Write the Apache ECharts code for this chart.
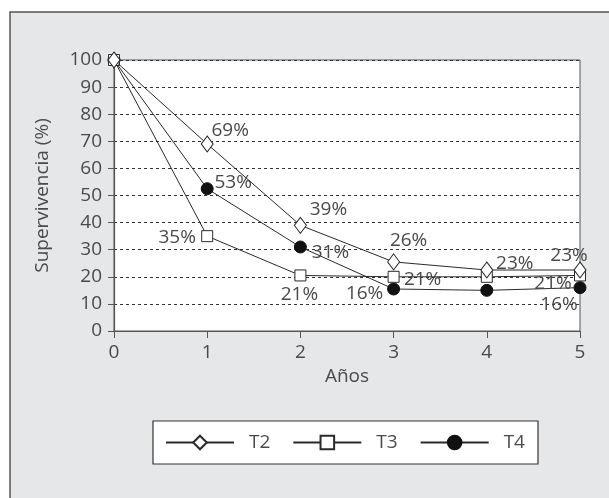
<!DOCTYPE html>
<html>
<head>
<meta charset="utf-8">
<script src="https://cdn.jsdelivr.net/npm/echarts@6/dist/echarts.min.js"></script>
<style>
html,body{margin:0;padding:0;background:#fff;}
#chart{width:609px;height:498px;}
</style>
</head>
<body>
<div id="chart"></div>
<script>
// ---- data ----
const years = [0, 1, 2, 3, 4, 5];
const seriesNames = ['T2', 'T3', 'T4'];
const t2Values = [100, 69, 39, 25.5, 22.5, 22.5];
const t3Values = [100, 35, 20.5, 20, 20, 20.5];
const t4Values = [100, 52.5, 31, 15.5, 15, 16];
const t2Labels = [null, '69%', '39%', '26%', '23%', '23%'];
const t3Labels = [null, '35%', '21%', '21%', null, '21%'];
const t4Labels = [null, '53%', '31%', '16%', null, '16%'];
const yTicks = [0, 10, 20, 30, 40, 50, 60, 70, 80, 90, 100];
const xAxisTitle = 'Años';
const yAxisTitle = 'Supervivencia (%)';

// ---- layout (label offsets in px from the marker centre) ----
const t2Offsets = [null, [23, -13], [28, -16], [15, -21], [28, -6], [-11, -14]];
const t3Offsets = [null, [-30, 1], [-1, 19], [29, 3], null, [-27, 8]];
const t4Offsets = [null, [26, -6], [30, 6], [-29, 5], null, [-21, 17]];

const FONT = '"Open Sans", "Liberation Sans", sans-serif';
const FS = 19;
const FW = 400;
const TXT = '#4a4a4a';
const LINE = '#2a2a2a';

function buildData(values, labels, offsets) {
  return years.map((x, i) => {
    const item = { value: [x, values[i]] };
    if (labels[i]) {
      item.label = {
        show: true,
        position: 'inside',
        offset: offsets[i],
        formatter: labels[i],
        color: TXT,
        fontSize: FS,
        fontFamily: FONT,
        fontWeight: FW
      };
    } else {
      item.label = { show: false };
    }
    return item;
  });
}

const chart = echarts.init(document.getElementById('chart'), null, { renderer: 'canvas' });
chart.setOption({
  backgroundColor: '#fff',
  animation: false,
  graphic: [{
    type: 'rect',
    z: -10,
    silent: true,
    shape: { x: 10, y: 12, width: 640, height: 520 },
    style: { fill: '#e6e7e8', stroke: '#555', lineWidth: 1.5 }
  }],
  grid: {
    left: 114, top: 60, right: 29, bottom: 167,
    show: true, backgroundColor: '#fff', borderColor: '#555', borderWidth: 1
  },
  legend: {
    data: seriesNames,
    left: 153, top: 421,
    orient: 'horizontal',
    padding: [12, 13, 12, 12],
    itemWidth: 68, itemHeight: 17, itemGap: 22,
    backgroundColor: '#fff',
    borderColor: '#333', borderWidth: 1.2, borderRadius: 0,
    textStyle: { color: TXT, fontSize: FS, fontFamily: FONT, fontWeight: FW, padding: [0, 0, 0, 10] }
  },
  xAxis: {
    type: 'value',
    min: 0, max: 5, interval: 1,
    name: xAxisTitle,
    nameLocation: 'middle',
    nameGap: 35,
    nameTextStyle: { color: TXT, fontSize: FS, fontFamily: FONT, fontWeight: FW },
    axisLine: { show: true, onZero: false, lineStyle: { color: '#555', width: 1.2 } },
    axisTick: { show: true, inside: false, length: 7, lineStyle: { color: '#555' } },
    axisLabel: { color: TXT, fontSize: FS, fontFamily: FONT, fontWeight: FW, margin: 12 },
    splitLine: { show: false }
  },
  yAxis: {
    type: 'value',
    min: 0, max: 100, interval: 10,
    name: yAxisTitle,
    nameLocation: 'middle',
    nameGap: 62,
    nameTextStyle: { color: TXT, fontSize: FS, fontFamily: FONT, fontWeight: FW },
    axisLine: { show: true, onZero: false, lineStyle: { color: '#555', width: 1.2 } },
    axisTick: { show: true, inside: false, length: 6, lineStyle: { color: '#555' } },
    axisLabel: {
      color: TXT, fontSize: FS, fontFamily: FONT, fontWeight: FW, margin: 12,
      formatter: v => (yTicks.indexOf(v) >= 0 ? String(v) : '')
    },
    splitLine: { show: true, lineStyle: { color: '#333', type: [3, 3], width: 1 } }
  },
  series: [
    {
      name: 'T2', type: 'line', z: 4,
      data: buildData(t2Values, t2Labels, t2Offsets),
      symbol: 'diamond', symbolSize: [12, 16],
      lineStyle: { color: LINE, width: 1 },
      itemStyle: { color: '#fff', borderColor: LINE, borderWidth: 1 }
    },
    {
      name: 'T3', type: 'line', z: 3,
      data: buildData(t3Values, t3Labels, t3Offsets),
      symbol: 'rect', symbolSize: 11,
      lineStyle: { color: LINE, width: 1 },
      itemStyle: { color: '#fff', borderColor: LINE, borderWidth: 1 }
    },
    {
      name: 'T4', type: 'line', z: 2,
      data: buildData(t4Values, t4Labels, t4Offsets),
      symbol: 'circle', symbolSize: 12,
      lineStyle: { color: LINE, width: 1 },
      itemStyle: { color: '#111', borderColor: '#111', borderWidth: 1 }
    }
  ]
});
</script>
</body>
</html>
